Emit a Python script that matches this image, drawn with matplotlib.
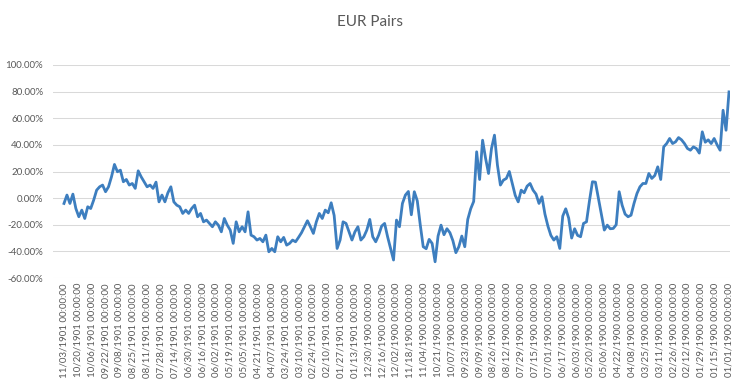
import numpy as np
import matplotlib
matplotlib.use("Agg")
import matplotlib.pyplot as plt

plt.rcParams['font.family'] = ['Lato', 'DejaVu Sans']

# category labels (Excel date serials shown as dates, every 14th category)
dates = ["11/03/1901", "10/20/1901", "10/06/1901", "09/22/1901", "09/08/1901",
         "08/25/1901", "08/11/1901", "07/28/1901", "07/14/1901", "06/30/1901",
         "06/16/1901", "06/02/1901", "05/19/1901", "05/05/1901", "04/21/1901",
         "04/07/1901", "03/24/1901", "03/10/1901", "02/24/1901", "02/10/1901",
         "01/27/1901", "01/13/1901", "12/30/1900", "12/16/1900", "12/02/1900",
         "11/18/1900", "11/04/1900", "10/21/1900", "10/07/1900", "09/23/1900",
         "09/09/1900", "08/26/1900", "08/12/1900", "07/29/1900", "07/15/1900",
         "07/01/1900", "06/17/1900", "06/03/1900", "05/20/1900", "05/06/1900",
         "04/22/1900", "04/08/1900", "03/25/1900", "03/11/1900", "02/26/1900",
         "02/12/1900", "01/29/1900", "01/15/1900", "01/01/1900"]
label_every = 14
n_categories = 673

# EUR pairs, % (every 3rd category)
sample_every = 3
eur_pct = [
    -4, 2.3, -4, 3, -7.8, -14, -9, -15.3, -6.5, -7.8,
    -1.5, 6, 8.5, 9.8, 4.8, 8.5, 16, 25.3, 19.8, 21,
    12.3, 14, 9.8, 11, 7.3, 20.5, 16, 12.3, 8.5, 9.8,
    7.3, 12, -2.8, 2.3, -2.8, 4, 8.5, -2.8, -5.3, -6.5,
    -11.5, -9, -11.5, -7.8, -5.3, -14, -11.5, -17.8, -16.5, -19,
    -21.5, -17.8, -20.3, -25.3, -15.3, -20.3, -24, -34, -17.8, -25.3,
    -21.5, -25.3, -10.3, -27.8, -29, -31.5, -30.3, -32.8, -27.8, -40.3,
    -37.8, -40.3, -29, -32.8, -29.5, -35.3, -34, -31.5, -32.8, -29.5,
    -26, -21.5, -17, -21.5, -26.5, -17.8, -11.5, -15.3, -9, -11,
    -3.5, -13, -37.8, -31.5, -17.8, -19, -25.3, -31.5, -25.3, -21.5,
    -31.5, -29, -24, -16, -29, -32.8, -27.8, -21, -19, -29,
    -37.8, -46.5, -16.5, -21.5, -4, 2.3, 5, -12.5, 4.8, -2,
    -20, -36.5, -38, -31, -34, -47.8, -28.5, -20.3, -27.5, -23,
    -26, -32, -41, -36.5, -28.5, -36.5, -16, -8, -2.5, 34.8,
    14, 43.5, 30, 18.5, 37.3, 47.3, 24.8, 9.8, 13.5, 14.8,
    20, 11, 2, -2.8, 6, 4, 9, 11, 6, 3,
    -4, 1, -12, -21, -28, -31.5, -29, -37.8, -13.5, -8,
    -15, -30, -23, -28, -29, -19, -17.8, -2, 12.3, 12,
    0, -12, -24, -20.3, -23, -22.8, -20, 4.8, -5.3, -12,
    -14, -12.8, -4, 3.5, 8.5, 11, 11, 18.5, 14.8, 17,
    23.5, 14, 38.5, 41, 44.8, 41, 42.3, 45.5, 43.8, 41,
    37.3, 36, 38.5, 37.3, 33.8, 49.8, 42, 43.8, 41, 44.8,
    40, 36, 66, 51, 79.8,
]

yticks = [-60, -40, -20, 0, 20, 40, 60, 80, 100]

x = np.arange(len(eur_pct)) * sample_every
tick_pos = np.arange(len(dates)) * label_every
tick_labels = [d + " 00:00:00" for d in dates]

fig = plt.figure(figsize=(7.43, 3.85), dpi=100)
ax = fig.add_axes([53 / 743, 107 / 385, 676.5 / 743, 213 / 385])

ax.plot(x, eur_pct, color='#3d7ebf', lw=2.0, solid_joinstyle='round')

ax.set_ylim(-60, 100)
ax.set_yticks(yticks)
ax.set_yticklabels([f"{v:.2f}%" for v in yticks])
ax.set_xlim(-11.1, n_categories - 0.5)
ax.set_xticks(tick_pos)
ax.set_xticklabels(tick_labels, rotation=90)

ax.tick_params(axis='both', length=0, colors='#595959', labelsize=7)
ax.tick_params(axis='y', pad=7)
ax.tick_params(axis='x', pad=3.6)
ax.yaxis.grid(True, color='#d9d9d9', lw=0.75)
ax.set_axisbelow(True)
for s in ax.spines.values():
    s.set_visible(False)

fig.text(370 / 743, 1 - 22 / 385, "EUR Pairs", ha='center', va='center',
         fontsize=11, color='#595959')

fig.savefig("out.png", dpi=100)
